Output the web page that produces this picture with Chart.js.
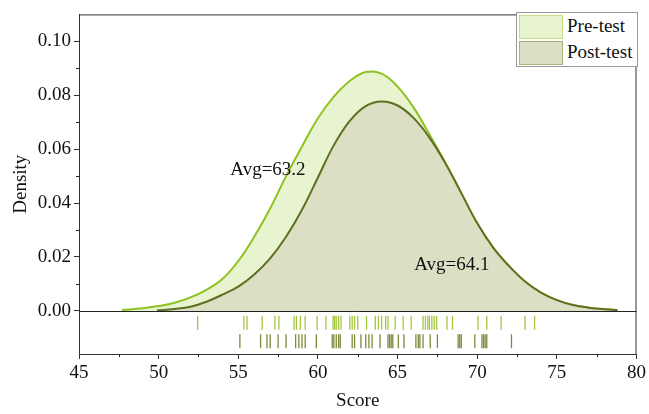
<!DOCTYPE html>
<html lang="en">
<head>
<meta charset="UTF-8">
<title>Score density</title>
<script src="https://cdn.jsdelivr.net/npm/chart.js"></script>
<style>
  html, body { margin: 0; padding: 0; background: #fff; }
  .wrap { position: relative; width: 649px; height: 414px; font-family: 'Liberation Serif', 'Times New Roman', serif; }
  .legend { position: absolute; left: 516px; top: 12px; width: 122px; height: 55px; border: 1px solid #9a9a9a; background: #fff; box-sizing: border-box; }
  .sw { position: absolute; left: 2px; width: 44px; height: 24px; box-sizing: border-box; }
  .sw.pre { top: 2px; background: #e8f3cf; border: 1px solid #c4df86; }
  .sw.post { top: 28px; background: #dcdfc4; border: 1px solid #a9b07c; }
  .lbl { position: absolute; left: 50px; font-size: 19px; line-height: 22px; color: #111; }
</style>
</head>
<body>
<div class="wrap">
  <canvas id="c" width="649" height="414"></canvas>
  <div class="legend">
    <span class="sw pre"></span><span class="lbl" style="top:2px">Pre-test</span>
    <span class="sw post"></span><span class="lbl" style="top:28px">Post-test</span>
  </div>
</div>
<script>
// density curves
const preX  = [47.7, 49, 50, 51, 52, 53, 54, 55, 56, 57, 58, 59, 60, 61, 62, 63, 64, 65, 66, 67, 68, 69, 70, 71, 72, 73, 74, 75, 76, 77, 78, 78.8];
const preY  = [0.0003, 0.0010, 0.0018, 0.0030, 0.0050, 0.0078, 0.0118, 0.0185, 0.0275, 0.0380, 0.0500, 0.0610, 0.0715, 0.0795, 0.0853, 0.0886, 0.0880, 0.0832, 0.0755, 0.0655, 0.0550, 0.0437, 0.0325, 0.0235, 0.0166, 0.0109, 0.0068, 0.0040, 0.0022, 0.0012, 0.0006, 0.0003];
const postX = [49.9, 51, 52, 53, 54, 55, 56, 57, 58, 59, 60, 61, 62, 63, 64, 65, 66, 67, 68, 69, 70, 71, 72, 73, 74, 75, 76, 77, 78, 78.8];
const postY = [0.0002, 0.0007, 0.0015, 0.0034, 0.0060, 0.0090, 0.0135, 0.0195, 0.0275, 0.0375, 0.0495, 0.0615, 0.0705, 0.0760, 0.0777, 0.0762, 0.0716, 0.0643, 0.0548, 0.0437, 0.0325, 0.0235, 0.0166, 0.0109, 0.0068, 0.0040, 0.0022, 0.0012, 0.0006, 0.0003];

// individual scores (rug)
const preRug  = [52.45, 55.35, 55.55, 56.5, 57.3, 57.55, 58.5, 58.65, 58.9, 59.2, 59.95, 60.5, 60.95, 61.05, 61.15, 61.3, 61.45, 62.0, 62.15, 62.3, 62.5, 63.05, 63.6, 63.8, 64.0, 64.25, 64.4, 64.85, 65.35, 65.85, 66.6, 66.75, 66.9, 67.0, 67.15, 67.3, 67.45, 68.1, 68.45, 70.05, 70.6, 71.5, 73.0, 73.6];
const postRug = [55.1, 56.4, 56.8, 57.0, 57.5, 58.0, 58.6, 58.8, 59.0, 59.2, 59.9, 60.9, 61.0, 61.15, 61.3, 61.4, 62.15, 62.3, 62.7, 63.0, 63.2, 63.4, 63.9, 64.4, 64.5, 64.6, 64.7, 65.05, 65.4, 66.15, 66.3, 66.4, 66.6, 67.05, 67.5, 68.8, 68.9, 69.0, 69.85, 70.3, 70.4, 70.5, 70.6, 72.15];

const xTicks = [45, 50, 55, 60, 65, 70, 75, 80];
const yTicks = [0, 0.02, 0.04, 0.06, 0.08, 0.10];
const xMinor = [47.5, 52.5, 57.5, 62.5, 67.5, 72.5, 77.5];
const yMinor = [0.01, 0.03, 0.05, 0.07, 0.09];

const FONT = "'Liberation Serif', 'Times New Roman', serif";
Chart.defaults.font.family = FONT;
Chart.defaults.color = '#111';

const pts = (xs, ys) => xs.map((x, i) => ({ x: x, y: ys[i] }));
const rug = (xs, y) => xs.map(x => ({ x: x, y: y }));

// frame, zero line, minor ticks, avg labels
const extras = {
    id: 'extras',
    afterDraw(chart) {
        const ctx = chart.ctx;
        const a = chart.chartArea;
        const xs = chart.scales.x, ys = chart.scales.y;
        ctx.save();
        ctx.strokeStyle = '#333';
        ctx.lineWidth = 1;
        ctx.strokeRect(a.left + 0.5, a.top + 0.5, a.right - a.left - 1, a.bottom - a.top);
        ctx.strokeStyle = '#222';
        const y0 = Math.round(ys.getPixelForValue(0)) + 0.5;
        ctx.beginPath(); ctx.moveTo(a.left, y0); ctx.lineTo(a.right, y0); ctx.stroke();
        ctx.beginPath();
        xMinor.forEach(v => {
            const px = Math.round(xs.getPixelForValue(v)) + 0.5;
            ctx.moveTo(px, a.bottom); ctx.lineTo(px, a.bottom + 3);
        });
        yMinor.forEach(v => {
            const py = Math.round(ys.getPixelForValue(v)) + 0.5;
            ctx.moveTo(a.left, py); ctx.lineTo(a.left - 3, py);
        });
        ctx.stroke();
        ctx.fillStyle = '#111';
        ctx.font = '19px ' + FONT;
        ctx.textBaseline = 'alphabetic';
        ctx.fillText('Avg=63.2', xs.getPixelForValue(54.5), ys.getPixelForValue(0.0504));
        ctx.fillText('Avg=64.1', xs.getPixelForValue(66.05), ys.getPixelForValue(0.0153));
        ctx.restore();
    }
};

new Chart(document.getElementById('c'), {
    type: 'line',
    data: {
        datasets: [{
            label: 'Pre-test',
            data: pts(preX, preY),
            borderColor: '#8dc21f',
            backgroundColor: '#e8f3cf',
            borderWidth: 2,
            fill: 'origin',
            pointRadius: 0,
            tension: 0.4,
            order: 3
        }, {
            label: 'Post-test',
            data: pts(postX, postY),
            borderColor: '#5e6f1f',
            backgroundColor: '#dcdfc4',
            borderWidth: 2,
            fill: 'origin',
            pointRadius: 0,
            tension: 0.4,
            order: 2
        }, {
            type: 'scatter',
            label: 'pre rug',
            data: rug(preRug, -0.0044),
            pointStyle: 'line',
            rotation: 90,
            radius: 7,
            borderWidth: 1.3,
            borderColor: '#a4c741',
            order: 1
        }, {
            type: 'scatter',
            label: 'post rug',
            data: rug(postRug, -0.0113),
            pointStyle: 'line',
            rotation: 90,
            radius: 7,
            borderWidth: 1.3,
            borderColor: '#7c8b3d',
            order: 1
        }]
    },
    options: {
        responsive: false,
        animation: false,
        events: [],
        layout: { padding: { top: 8, right: 8, left: 0, bottom: 0 } },
        plugins: { legend: { display: false }, tooltip: { enabled: false } },
        scales: {
            x: {
                type: 'linear',
                min: 45, max: 80,
                afterBuildTicks: s => { s.ticks = xTicks.map(v => ({ value: v })); },
                afterFit: s => { s.height = 60; },
                grid: { drawOnChartArea: false, color: '#333', tickLength: 5 },
                border: { color: '#333' },
                ticks: { color: '#111', font: { size: 19 }, padding: 3, maxRotation: 0, autoSkip: false },
                title: { display: true, text: 'Score', color: '#111', font: { size: 19 }, padding: { top: 0, bottom: 2 } }
            },
            y: {
                min: -0.016, max: 0.11,
                afterBuildTicks: s => { s.ticks = yTicks.map(v => ({ value: v })); },
                afterFit: s => { s.width = 79; },
                grid: { drawOnChartArea: false, color: '#333', tickLength: 5 },
                border: { color: '#333' },
                ticks: { color: '#111', font: { size: 19 }, padding: 3, callback: v => v.toFixed(2) },
                title: { display: true, text: 'Density', color: '#111', font: { size: 19 }, padding: { top: 10, bottom: 0 } }
            }
        }
    },
    plugins: [extras]
});
</script>
</body>
</html>
